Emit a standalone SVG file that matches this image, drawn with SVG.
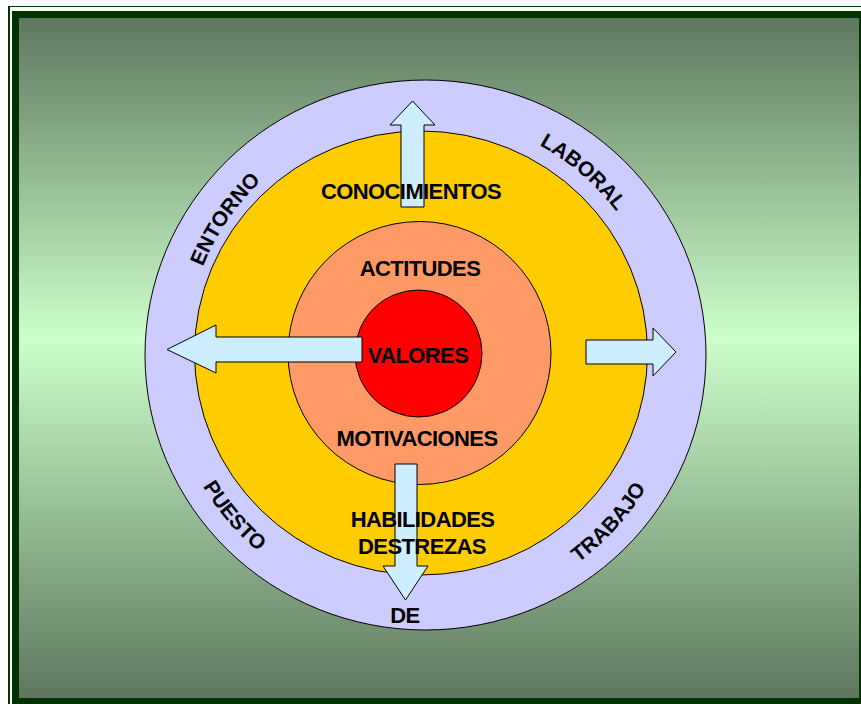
<svg xmlns="http://www.w3.org/2000/svg" width="861" height="704" viewBox="0 0 861 704">
  <defs>
    <linearGradient id="bg" x1="0" y1="0" x2="0" y2="1">
      <stop offset="0" stop-color="#5e775e"/>
      <stop offset="0.47" stop-color="#ccffcc"/>
      <stop offset="1" stop-color="#5e775e"/>
    </linearGradient>
    <path id="topArc" d="M 186,355 A 239 239 0 0 1 664,355"/>
    <path id="botArc" d="M 167,355 A 258 258 0 0 0 683,355"/>
    <style>
      .ring { stroke: #000; stroke-width: 1; }
      .arrow { fill: #cceeff; stroke: #000; stroke-width: 1; stroke-linejoin: miter; }
      .lbl { font-family: "Liberation Sans", Arial, sans-serif; font-weight: bold; font-size: 22px; letter-spacing: -0.6px; fill: #000; text-anchor: middle; }
      .arc { font-family: "Liberation Sans", Arial, sans-serif; font-weight: bold; font-size: 21px; fill: #000; text-anchor: middle; }
    </style>
  </defs>

  <g id="frame">
    <rect x="0" y="0" width="861" height="704" fill="#ffffff"/>
    <rect x="8" y="6" width="853" height="698" fill="#003300"/>
    <rect x="10" y="7" width="851" height="697" fill="#ffffff"/>
    <rect x="12" y="11" width="849" height="693" fill="#003300"/>
    <rect x="19" y="18" width="840" height="680" fill="url(#bg)"/>
  </g>

  <g id="entorno-ring">
    <ellipse class="ring" cx="425.5" cy="355" rx="280.5" ry="275" fill="#ccccff"/>
  </g>
  <g id="conocimientos-ring">
    <ellipse class="ring" cx="421" cy="353" rx="226.5" ry="222" fill="#ffcc00"/>
  </g>
  <g id="actitudes-ring">
    <circle class="ring" cx="419.5" cy="353" r="131.5" fill="#ff9966"/>
  </g>
  <g id="valores-core">
    <circle class="ring" cx="418.5" cy="353.5" r="63.5" fill="#ff0000"/>
  </g>

  <g id="connectors">
    <polygon class="arrow" points="401,207 401,125 390,125 412.5,101 435,125 424,125 424,207"/>
    <polygon class="arrow" points="362,337 216,337 216,325 167,349.5 216,373 216,362 362,362"/>
    <polygon class="arrow" points="586,340 653,340 653,328 676,352 653,376 653,364 586,364"/>
    <polygon class="arrow" points="395,464 417,464 417,566 428,566 405.5,600 383,566 395,566"/>
  </g>

  <g id="labels">
    <text class="lbl" x="411" y="199">CONOCIMIENTOS</text>
    <text class="lbl" x="420" y="276">ACTITUDES</text>
    <text class="lbl" x="418" y="363">VALORES</text>
    <text class="lbl" x="417" y="446">MOTIVACIONES</text>
    <text class="lbl" x="422.5" y="527">HABILIDADES</text>
    <text class="lbl" x="422" y="554">DESTREZAS</text>
    <text class="lbl" x="405" y="623">DE</text>
  </g>

  <g id="ring-labels">
    <text class="arc"><textPath href="#topArc" startOffset="19%">ENTORNO</textPath></text>
    <text class="arc"><textPath href="#topArc" startOffset="72.7%">LABORAL</textPath></text>
    <text class="arc"><textPath href="#botArc" startOffset="22.3%">PUESTO</textPath></text>
    <text class="arc"><textPath href="#botArc" startOffset="76.5%">TRABAJO</textPath></text>
  </g>
</svg>
